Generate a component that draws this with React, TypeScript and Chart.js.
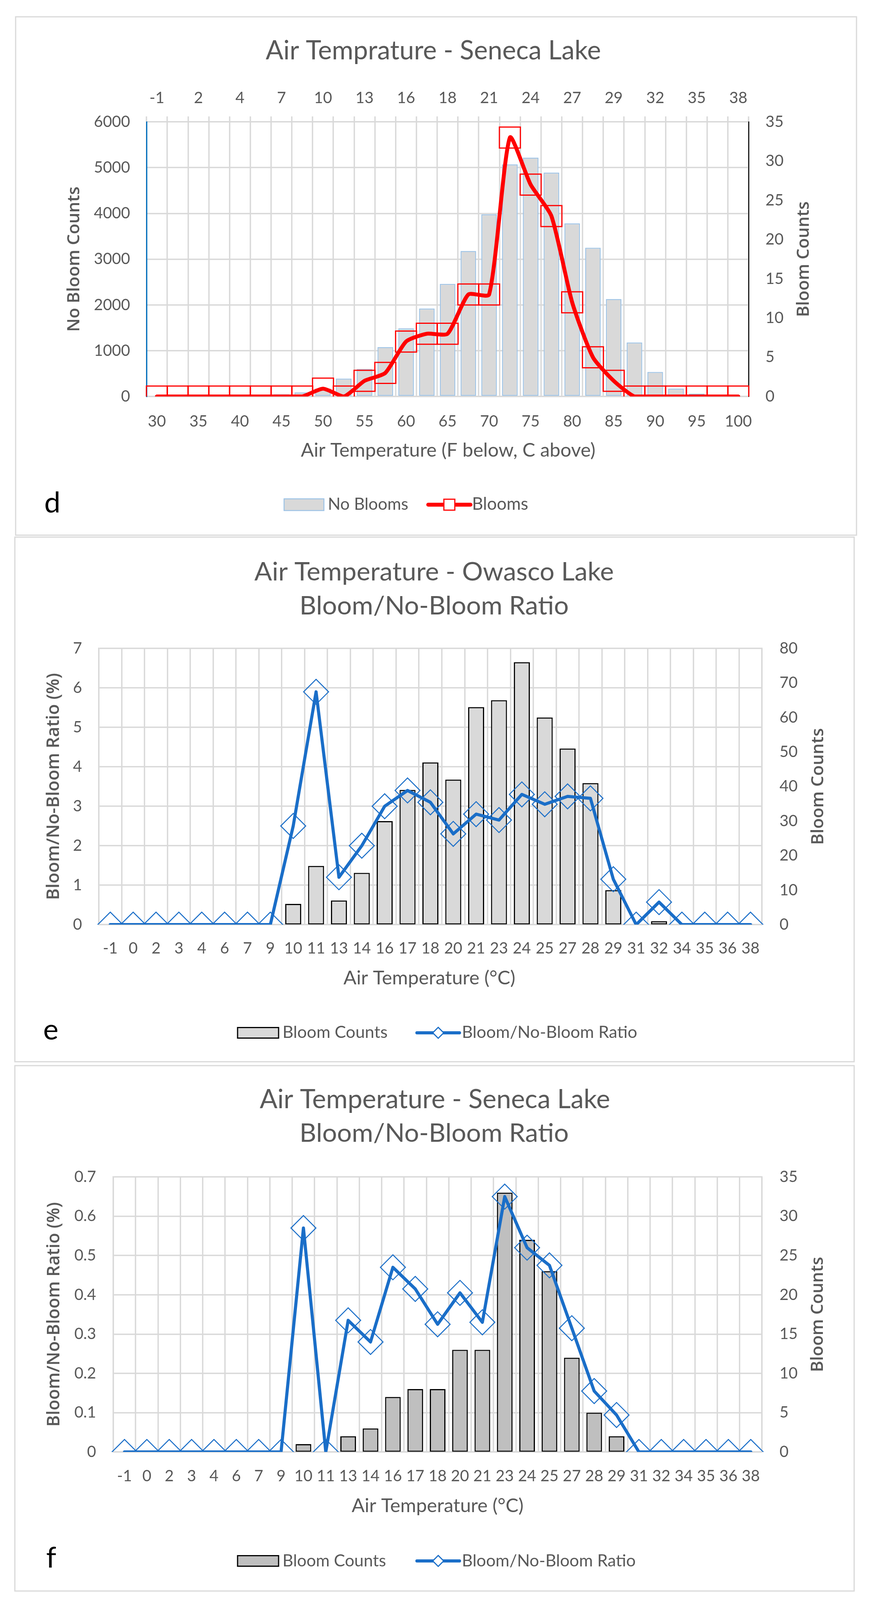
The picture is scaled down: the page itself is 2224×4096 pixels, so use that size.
import React, { useEffect, useRef } from 'react';
import { Chart, registerables } from 'chart.js';

Chart.register(...registerables);

// ---------------- DATA ----------------
// Panel d: Air Temprature - Seneca Lake (°F categories, °C labels on top)
const fCategories = ['30', '32.5', '35', '37.5', '40', '42.5', '45', '47.5', '50', '52.5', '55', '57.5', '60', '62.5', '65', '67.5', '70', '72.5', '75', '77.5', '80', '82.5', '85', '87.5', '90', '92.5', '95', '97.5', '100'];
const fTickLabels = ['30', '35', '40', '45', '50', '55', '60', '65', '70', '75', '80', '85', '90', '95', '100'];
const cTopTickLabels = ['-1', '2', '4', '7', '10', '13', '16', '18', '21', '24', '27', '29', '32', '35', '38'];
const senecaNoBlooms = [0, 0, 0, 0, 0, 0, 50, 90, 170, 390, 600, 1080, 1490, 1920, 2460, 3180, 3980, 5070, 5220, 4890, 3780, 3250, 2130, 1180, 535, 170, 60, 15, 0];
const senecaBlooms = [0, 0, 0, 0, 0, 0, 0, 0, 1, 0, 2, 3, 7, 8, 8, 13, 13, 33, 27, 23, 12, 5, 2, 0, 0, 0, 0, 0, 0];

// Panels e and f (°C categories)
const cCategories = ['-1', '0', '2', '3', '4', '6', '7', '9', '10', '11', '13', '14', '16', '17', '18', '20', '21', '23', '24', '25', '27', '28', '29', '31', '32', '34', '35', '36', '38'];
const owascoBloomCounts = [0, 0, 0, 0, 0, 0, 0, 0, 6, 17, 7, 15, 30, 39, 47, 42, 63, 65, 76, 60, 51, 41, 10, 0, 1, 0, 0, 0, 0];
const owascoRatio = [0, 0, 0, 0, 0, 0, 0, 0, 2.5, 5.9, 1.2, 2.0, 3.0, 3.4, 3.1, 2.3, 2.8, 2.65, 3.3, 3.05, 3.25, 3.2, 1.15, 0, 0.57, 0, 0, 0, 0];
const senecaBloomCounts = [0, 0, 0, 0, 0, 0, 0, 0, 1, 0, 2, 3, 7, 8, 8, 13, 13, 33, 27, 23, 12, 5, 2, 0, 0, 0, 0, 0, 0];
const senecaRatio = [0, 0, 0, 0, 0, 0, 0, 0, 0.57, 0, 0.335, 0.28, 0.47, 0.415, 0.325, 0.405, 0.33, 0.65, 0.52, 0.475, 0.315, 0.155, 0.094, 0, 0, 0, 0, 0, 0];

// ---------------- STYLE ----------------
const W = 2224;
const GRID = '#D9D9D9';
const TXT = '#595959';
const BLUE = '#1A6EC8';
const RED = '#FF0000';
const TICKFONT = { family: 'Lato', size: 40 };
const TITLE_FAMILY = 'Lato';
const AXIS_FAMILY = 'Open Sans';

function fitText(
  ctx: CanvasRenderingContext2D,
  text: string,
  x: number,
  y: number,
  targetW: number,
  family: string,
  weight: string | number,
  color: string,
  align: CanvasTextAlign = 'center',
  rotation = 0
) {
  ctx.save();
  ctx.font = `${weight} 100px "${family}"`;
  const m = ctx.measureText(text).width || 1;
  const size = (100 * targetW) / m;
  ctx.font = `${weight} ${size.toFixed(2)}px "${family}"`;
  ctx.fillStyle = color;
  ctx.textAlign = align;
  ctx.textBaseline = rotation ? 'middle' : 'alphabetic';
  ctx.translate(x, y);
  if (rotation) ctx.rotate(rotation);
  ctx.fillText(text, 0, 0);
  ctx.restore();
}

function letter(ctx: CanvasRenderingContext2D, t: string, x: number, y: number) {
  ctx.save();
  ctx.font = '74px "Lato"';
  ctx.fillStyle = '#000';
  ctx.textAlign = 'center';
  ctx.textBaseline = 'alphabetic';
  ctx.fillText(t, x, y);
  ctx.restore();
}

function legendBox(ctx: CanvasRenderingContext2D, x: number, yc: number, w: number, h: number, fill: string, stroke: string, lw: number) {
  ctx.save();
  ctx.fillStyle = fill;
  ctx.fillRect(x, yc - h / 2, w, h);
  ctx.strokeStyle = stroke;
  ctx.lineWidth = lw;
  ctx.strokeRect(x, yc - h / 2, w, h);
  ctx.restore();
}

function legendLine(ctx: CanvasRenderingContext2D, x1: number, x2: number, yc: number, color: string, lw: number, marker: 'rect' | 'diamond', ms: number) {
  ctx.save();
  ctx.strokeStyle = color;
  ctx.lineWidth = lw;
  ctx.lineCap = 'round';
  ctx.beginPath();
  ctx.moveTo(x1, yc);
  ctx.lineTo(x2, yc);
  ctx.stroke();
  const cx = (x1 + x2) / 2;
  ctx.fillStyle = '#fff';
  ctx.lineWidth = 3;
  ctx.beginPath();
  if (marker === 'rect') {
    ctx.rect(cx - ms / 2, yc - ms / 2, ms, ms);
  } else {
    ctx.moveTo(cx, yc - ms);
    ctx.lineTo(cx + ms, yc);
    ctx.lineTo(cx, yc + ms);
    ctx.lineTo(cx - ms, yc);
    ctx.closePath();
  }
  ctx.fill();
  ctx.stroke();
  ctx.restore();
}

function framePlugin(w: number, h: number, frame: [number, number, number, number], after: (ctx: CanvasRenderingContext2D) => void) {
  return {
    id: 'decor',
    beforeDraw(chart: any) {
      const ctx = chart.ctx as CanvasRenderingContext2D;
      ctx.save();
      ctx.fillStyle = '#fff';
      ctx.fillRect(0, 0, w, h);
      ctx.strokeStyle = GRID;
      ctx.lineWidth = 3;
      ctx.strokeRect(frame[0], frame[1], frame[2] - frame[0], frame[3] - frame[1]);
      ctx.restore();
    },
    afterDraw(chart: any) {
      after(chart.ctx as CanvasRenderingContext2D);
    },
  };
}

const baseOptions = (padTop: number) => ({
  responsive: false,
  maintainAspectRatio: false,
  animation: false as const,
  devicePixelRatio: 1,
  layout: { padding: { top: padTop, left: 0, right: 0, bottom: 0 } },
  plugins: { legend: { display: false }, tooltip: { enabled: false }, title: { display: false } },
});

function makeD(canvas: HTMLCanvasElement) {
  const H = 1373;
  const topLabels = fCategories.map((_, i) => (i % 2 === 0 ? cTopTickLabels[i / 2] : ''));
  return new Chart(canvas, {
    type: 'bar',
    data: {
      labels: fCategories,
      datasets: [
        {
          type: 'line',
          label: 'Blooms',
          data: senecaBlooms,
          xAxisID: 'x',
          yAxisID: 'y2',
          borderColor: RED,
          borderWidth: 10,
          tension: 0.2,
          borderJoinStyle: 'round',
          borderCapStyle: 'round',
          pointStyle: 'rect',
          pointRadius: 38,
          pointBorderWidth: 3,
          pointBorderColor: RED,
          pointBackgroundColor: 'rgba(0,0,0,0)',
          order: 1,
        } as any,
        {
          type: 'bar',
          label: 'No Blooms',
          data: senecaNoBlooms,
          xAxisID: 'x',
          yAxisID: 'y',
          backgroundColor: '#D9D9D9',
          borderColor: '#9DC3E6',
          borderWidth: 2.5,
          borderSkipped: false,
          barPercentage: 0.75,
          categoryPercentage: 1,
          order: 2,
        } as any,
      ],
    },
    options: {
      ...baseOptions(0),
      scales: {
        x: {
          type: 'category',
          position: 'bottom',
          offset: true,
          grid: { offset: true, color: GRID, lineWidth: 3.5, drawTicks: false },
          border: { color: GRID, width: 3.5 },
          ticks: {
            autoSkip: false, maxRotation: 0, minRotation: 0, padding: 40, color: TXT, font: TICKFONT,
            callback: (_v: any, i: number) => (i % 2 === 0 ? fTickLabels[i / 2] : ''),
          },
          afterFit: (s: any) => { s.height = H - 1015; },
        },
        x2: {
          type: 'category',
          position: 'top',
          labels: topLabels,
          offset: true,
          grid: { offset: true, drawOnChartArea: false, drawTicks: true, tickLength: 14, color: GRID, lineWidth: 3.5 },
          border: { display: false },
          ticks: { autoSkip: false, maxRotation: 0, minRotation: 0, padding: 23, color: TXT, font: TICKFONT },
          afterFit: (s: any) => { s.height = 312; },
        },
        y: {
          position: 'left',
          min: 0,
          max: 6000,
          ticks: { stepSize: 1000, padding: 42, color: TXT, font: TICKFONT, callback: (v: any) => String(v) },
          grid: { color: GRID, lineWidth: 3.5, drawTicks: false },
          border: { color: '#0070C0', width: 3 },
          afterFit: (s: any) => { s.width = 375; },
        },
        y2: {
          position: 'right',
          min: 0,
          max: 35,
          ticks: { stepSize: 5, padding: 43, color: TXT, font: TICKFONT },
          grid: { drawOnChartArea: false, drawTicks: false },
          border: { color: '#000', width: 2.5 },
          afterFit: (s: any) => { s.width = W - 1916; },
        },
      } as any,
    },
    plugins: [
      framePlugin(W, H, [40, 43, 2192, 1370], (ctx) => {
        fitText(ctx, 'Air Temprature - Seneca Lake', 1109, 152, 858, TITLE_FAMILY, 'normal', TXT);
        fitText(ctx, 'Air Temperature (F below, C above)', 1147, 1169, 754, TITLE_FAMILY, 'normal', TXT);
        fitText(ctx, 'No Bloom Counts', 190, 663.5, 372, AXIS_FAMILY, 600, TXT, 'center', -Math.PI / 2);
        fitText(ctx, 'Bloom Counts', 2058, 663.5, 296, AXIS_FAMILY, 600, TXT, 'center', -Math.PI / 2);
        letter(ctx, 'd', 134, 1312);
        legendBox(ctx, 727, 1292, 102, 30, '#D9D9D9', '#9DC3E6', 2.5);
        fitText(ctx, 'No Blooms', 839, 1305, 206, TITLE_FAMILY, 'normal', TXT, 'left');
        legendLine(ctx, 1096, 1204, 1292, RED, 10, 'rect', 28);
        fitText(ctx, 'Blooms', 1208, 1305, 144, TITLE_FAMILY, 'normal', TXT, 'left');
      }),
    ],
  });
}

function makeRatio(
  canvas: HTMLCanvasElement,
  H: number,
  frame: [number, number, number, number],
  plotTop: number,
  plotLeft: number,
  counts: number[],
  ratio: number[],
  barFill: string,
  yMax: number,
  yStep: number,
  y2Max: number,
  y2Step: number,
  xPad: number,
  yPad: number,
  after: (ctx: CanvasRenderingContext2D) => void
) {
  const plotBottom = 994;
  return new Chart(canvas, {
    type: 'bar',
    data: {
      labels: cCategories,
      datasets: [
        {
          type: 'line',
          label: 'Bloom/No-Bloom Ratio',
          data: ratio,
          yAxisID: 'y',
          borderColor: BLUE,
          borderWidth: 8,
          tension: 0,
          borderJoinStyle: 'round',
          borderCapStyle: 'round',
          pointStyle: 'rectRot',
          pointRadius: 32,
          pointBorderWidth: 2.5,
          pointBorderColor: BLUE,
          pointBackgroundColor: 'rgba(0,0,0,0)',
          order: 1,
        } as any,
        {
          type: 'bar',
          label: 'Bloom Counts',
          data: counts,
          yAxisID: 'y2',
          backgroundColor: barFill,
          borderColor: '#000',
          borderWidth: 3,
          borderSkipped: false,
          barPercentage: 0.7,
          categoryPercentage: 1,
          order: 2,
        } as any,
      ],
    },
    options: {
      ...baseOptions(plotTop),
      scales: {
        x: {
          type: 'category',
          position: 'bottom',
          offset: true,
          grid: { offset: true, color: GRID, lineWidth: 3.5, drawTicks: false },
          border: { color: GRID, width: 3.5 },
          ticks: { autoSkip: false, maxRotation: 0, minRotation: 0, padding: xPad, color: TXT, font: TICKFONT },
          afterFit: (s: any) => { s.height = H - plotBottom; },
        },
        y: {
          position: 'left',
          min: 0,
          max: yMax,
          ticks: {
            stepSize: yStep, padding: yPad, color: TXT, font: TICKFONT,
            callback: (v: any) => (yStep < 1 ? (Math.abs(v) < 1e-9 ? '0' : Number(v).toFixed(1)) : String(Math.round(v))),
          },
          grid: { color: GRID, lineWidth: 3.5, drawTicks: false },
          border: { color: GRID, width: 3.5 },
          afterFit: (s: any) => { s.width = plotLeft; },
        },
        y2: {
          position: 'right',
          min: 0,
          max: y2Max,
          ticks: { stepSize: y2Step, padding: 45, color: TXT, font: TICKFONT },
          grid: { drawOnChartArea: false, drawTicks: false },
          border: { color: GRID, width: 3.5 },
          afterFit: (s: any) => { s.width = W - 1950; },
        },
      } as any,
    },
    plugins: [framePlugin(W, H, frame, after)],
  });
}

export default function App() {
  const dRef = useRef<HTMLCanvasElement>(null);
  const eRef = useRef<HTMLCanvasElement>(null);
  const fRef = useRef<HTMLCanvasElement>(null);

  useEffect(() => {
    const charts: Chart[] = [];
    if (dRef.current) charts.push(makeD(dRef.current));
    if (eRef.current)
      charts.push(
        makeRatio(eRef.current, 1350, [38, 2, 2186, 1345], 287, 253, owascoBloomCounts, owascoRatio, '#D9D9D9', 7, 1, 80, 10, 37, 43, (ctx) => {
          fitText(ctx, 'Air Temperature - Owasco Lake', 1111, 113, 920, TITLE_FAMILY, 'normal', TXT);
          fitText(ctx, 'Bloom/No-Bloom Ratio', 1111, 200, 689, TITLE_FAMILY, 'normal', TXT);
          fitText(ctx, 'Air Temperature (°C)', 1099, 1147, 440, TITLE_FAMILY, 'normal', TXT);
          fitText(ctx, 'Bloom/No-Bloom Ratio (%)', 138, 640.5, 581, AXIS_FAMILY, 600, TXT, 'center', -Math.PI / 2);
          fitText(ctx, 'Bloom Counts', 2094, 640.5, 299, AXIS_FAMILY, 600, TXT, 'center', -Math.PI / 2);
          letter(ctx, 'e', 130, 1288);
          legendBox(ctx, 608, 1271, 105, 27, '#D9D9D9', '#000', 3);
          fitText(ctx, 'Bloom Counts', 723, 1284, 269, TITLE_FAMILY, 'normal', TXT, 'left');
          legendLine(ctx, 1067, 1176, 1271, BLUE, 8, 'diamond', 14);
          fitText(ctx, 'Bloom/No-Bloom Ratio', 1182, 1284, 449, TITLE_FAMILY, 'normal', TXT, 'left');
        })
      );
    if (fRef.current)
      charts.push(
        makeRatio(fRef.current, 1373, [38, 5, 2186, 1350], 290, 290, senecaBloomCounts, senecaRatio, '#BFBFBF', 0.7, 0.1, 35, 5, 38, 44, (ctx) => {
          fitText(ctx, 'Air Temperature - Seneca Lake', 1113, 114, 897, TITLE_FAMILY, 'normal', TXT);
          fitText(ctx, 'Bloom/No-Bloom Ratio', 1111, 200, 689, TITLE_FAMILY, 'normal', TXT);
          fitText(ctx, 'Air Temperature (°C)', 1120, 1148, 440, TITLE_FAMILY, 'normal', TXT);
          fitText(ctx, 'Bloom/No-Bloom Ratio (%)', 139, 642, 575, AXIS_FAMILY, 600, TXT, 'center', -Math.PI / 2);
          fitText(ctx, 'Bloom Counts', 2094, 642, 295, AXIS_FAMILY, 600, TXT, 'center', -Math.PI / 2);
          letter(ctx, 'f', 131, 1290);
          legendBox(ctx, 608, 1273, 105, 27, '#BFBFBF', '#000', 3);
          fitText(ctx, 'Bloom Counts', 723, 1287, 265, TITLE_FAMILY, 'normal', TXT, 'left');
          legendLine(ctx, 1067, 1176, 1273, BLUE, 8, 'diamond', 14);
          fitText(ctx, 'Bloom/No-Bloom Ratio', 1182, 1287, 445, TITLE_FAMILY, 'normal', TXT, 'left');
        })
      );
    return () => charts.forEach((c) => c.destroy());
  }, []);

  return (
    <div style={{ position: 'absolute', left: 0, top: 0, width: W, height: 4096, background: '#fff' }}>
      <canvas ref={dRef} width={W} height={1373} style={{ position: 'absolute', left: 0, top: 0, width: W, height: 1373 }} />
      <canvas ref={eRef} width={W} height={1350} style={{ position: 'absolute', left: 0, top: 1373, width: W, height: 1350 }} />
      <canvas ref={fRef} width={W} height={1373} style={{ position: 'absolute', left: 0, top: 2723, width: W, height: 1373 }} />
    </div>
  );
}
